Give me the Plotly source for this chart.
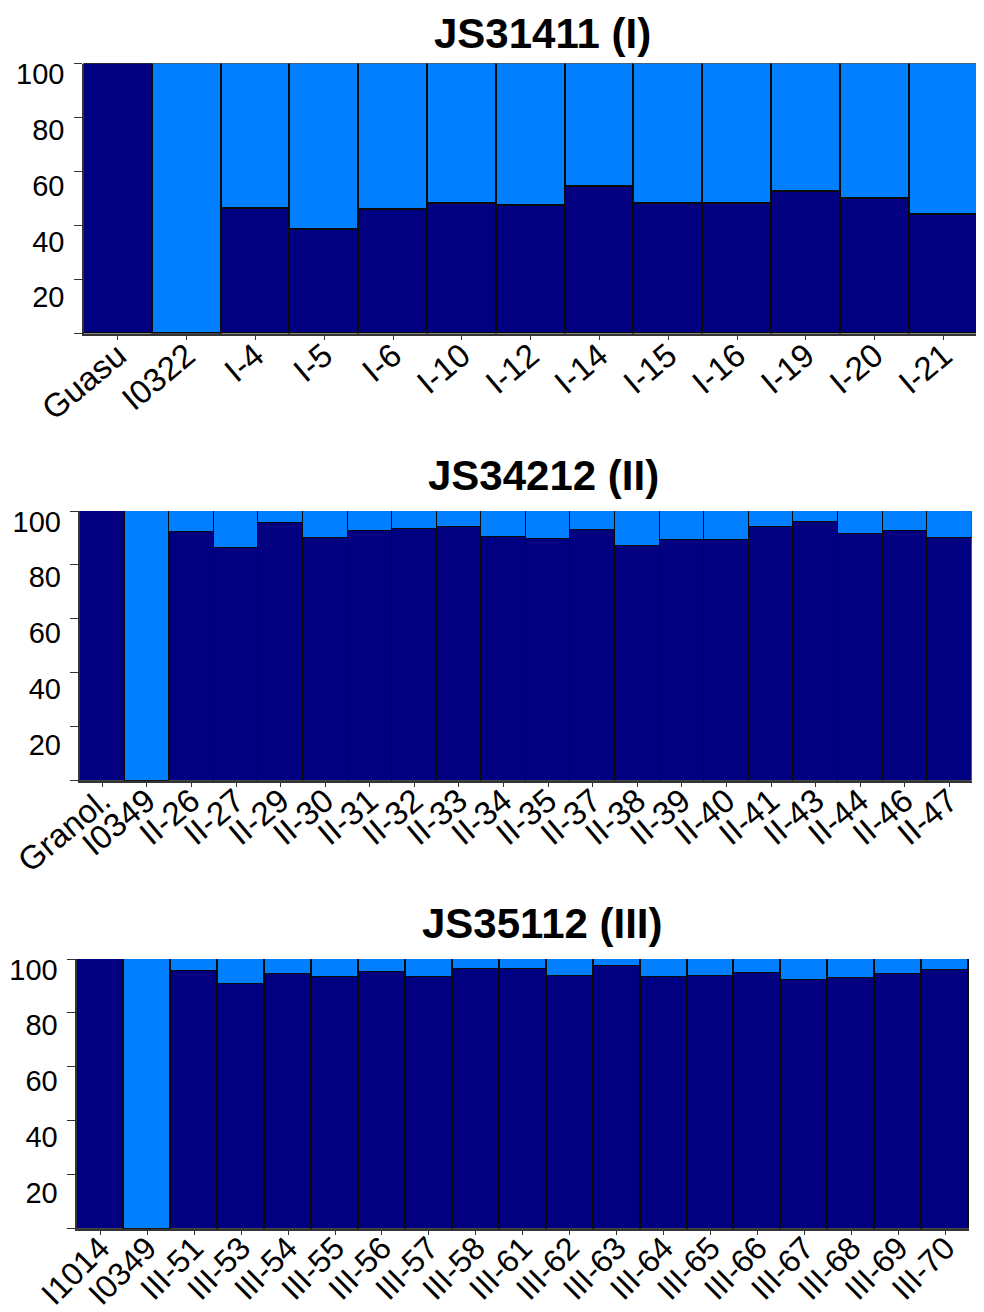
import plotly.graph_objects as go

# ---------------- data ----------------
p1_labels = ["Guasu", "I0322", "I-4", "I-5", "I-6", "I-10", "I-12", "I-14",
             "I-15", "I-16", "I-19", "I-20", "I-21"]
p1_dark = [100, 0, 46.2, 38.6, 46.1, 48.3, 47.5, 54.4, 48.3, 48.3, 52.5, 50.1, 44.1]

p2_labels = ["Granol.", "I0349", "II-26", "II-27", "II-29", "II-30", "II-31",
             "II-32", "II-33", "II-34", "II-35", "II-37", "II-38", "II-39",
             "II-40", "II-41", "II-43", "II-44", "II-46", "II-47"]
p2_dark = [100, 0, 92.2, 86.4, 95.4, 90.0, 92.5, 93.2, 94.1, 90.2, 89.7, 92.8,
           87.0, 89.2, 89.2, 94.1, 95.8, 91.6, 92.6, 90.0]

p3_labels = ["I1014", "I0349", "III-51", "III-53", "III-54", "III-55", "III-56",
             "III-57", "III-58", "III-61", "III-62", "III-63", "III-64", "III-65",
             "III-66", "III-67", "III-68", "III-69", "III-70"]
p3_dark = [100, 0, 95.6, 90.6, 94.3, 93.5, 95.0, 93.5, 96.2, 96.2, 93.7, 97.4,
           93.2, 93.7, 94.7, 92.1, 93.0, 94.3, 95.9]

titles = ["JS31411 (I)", "JS34212 (II)", "JS35112 (III)"]
y_ticks = [0, 20, 40, 60, 80, 100]
y_tick_labels = [20, 40, 60, 80, 100]

# ---------------- style ----------------
DARK = "#000080"
LIGHT = "#0080FF"
EDGE = "#0a0a0a"
FONT = "Arial, Liberation Sans, sans-serif"
OFF = 8                      # page body margin in the browser
W, H = 984 - OFF, 1312 - OFF

panels = [
    dict(labels=p1_labels, dark=p1_dark, xpx=(83.5, 978.0), ypx=(63.5, 333.5),
         angle=-40, fs=33, so=-17, title_xy=(542, 33)),
    dict(labels=p2_labels, dark=p2_dark, xpx=(80.0, 971.7), ypx=(511.0, 780.7),
         angle=-40, fs=33, so=-19, title_xy=(543, 476)),
    dict(labels=p3_labels, dark=p3_dark, xpx=(76.7, 969.0), ypx=(959.0, 1228.7),
         angle=-45, fs=32, so=-19, title_xy=(542, 923)),
]

fig = go.Figure()
layout = dict(
    template="none",
    width=W, height=H,
    margin=dict(l=0, r=0, t=0, b=0, autoexpand=False),
    paper_bgcolor="white", plot_bgcolor="white",
    barmode="stack", bargap=0, showlegend=False,
    font=dict(family=FONT, color="black"),
    annotations=[],
)

for i, p in enumerate(panels, start=1):
    xs = "" if i == 1 else str(i)
    xa, ya = "x" + xs, "y" + xs
    light = [round(100 - d, 2) for d in p["dark"]]
    fig.add_trace(go.Bar(x=p["labels"], y=p["dark"], xaxis=xa, yaxis=ya,
                         marker=dict(color=DARK, line=dict(color=EDGE, width=1.5)),
                         hoverinfo="x+y"))
    fig.add_trace(go.Bar(x=p["labels"], y=light, xaxis=xa, yaxis=ya,
                         marker=dict(color=LIGHT, line=dict(color=EDGE, width=1.5)),
                         hoverinfo="x+y"))
    # invisible trace on the label axis
    lab_idx = i + 3
    fig.add_trace(go.Scatter(x=[p["labels"][0]], y=[50], xaxis=xa, yaxis="y" + str(lab_idx),
                             mode="markers", marker=dict(opacity=0), hoverinfo="skip"))

    x0, x1 = p["xpx"]
    y0, y1 = p["ypx"]
    xdom = [(x0 - OFF) / W, (x1 - OFF) / W]
    ydom = [1 - (y1 - OFF) / H, 1 - (y0 - OFF) / H]
    n = len(p["labels"])
    layout["xaxis" + xs] = dict(
        domain=xdom, anchor=ya, type="category", range=[-0.5, n - 0.5],
        automargin=False,
        tickangle=p["angle"], ticks="outside", ticklen=5, tickwidth=1.2,
        tickcolor="#333333", showline=True, linecolor="#333333", linewidth=1.5,
        showgrid=False, zeroline=False, ticklabelstandoff=p["so"],
        tickfont=dict(size=p["fs"], family=FONT, color="black"),
    )
    layout["yaxis" + xs] = dict(
        domain=ydom, anchor=xa, range=[0, 100], tickvals=y_ticks,
        automargin=False,
        showticklabels=False, ticks="outside", ticklen=8, tickwidth=1.2,
        tickcolor="#333333", showline=True, linecolor="#333333", linewidth=1.5,
        showgrid=False, zeroline=False,
    )
    layout["yaxis" + str(lab_idx)] = dict(
        overlaying=ya, anchor=xa, side="left", range=[7.0, 103.8],
        automargin=False,
        tickvals=y_tick_labels, ticks="", showline=False, showgrid=False,
        zeroline=False, ticklabelstandoff=18,
        tickfont=dict(size=29, family=FONT, color="black"),
    )
    tx, ty = p["title_xy"]
    layout["annotations"].append(dict(
        text="<b>" + titles[i - 1] + "</b>", xref="paper", yref="paper",
        x=(tx - OFF) / W, y=1 - (ty - OFF) / H, xanchor="center", yanchor="middle",
        borderpad=0,
        showarrow=False, font=dict(size=42, family=FONT, color="black"),
    ))

fig.update_layout(**layout)
fig.write_html("out.html")
